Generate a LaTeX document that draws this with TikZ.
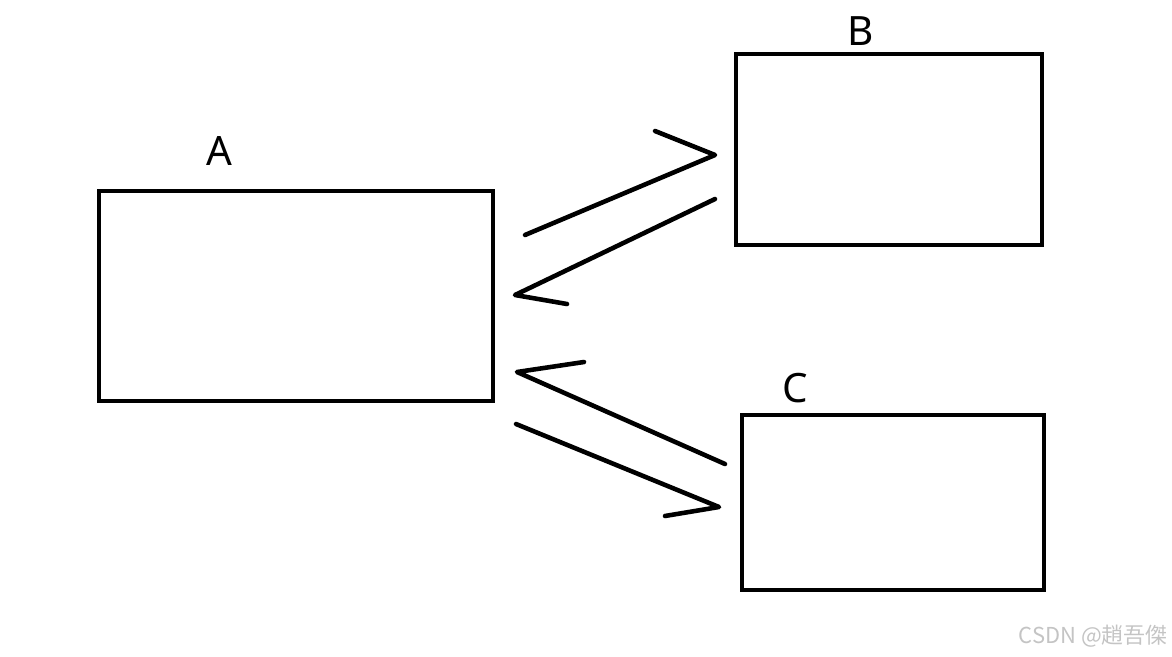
\documentclass[tikz,border=0pt]{standalone}
\usepackage{fontspec}
\setmainfont{Noto Sans}
\newfontfamily\cjkwm{Noto Sans CJK SC}
\definecolor{Cw}{HTML}{C4C4C4}
\tikzset{
	blockbox/.style={draw, line width=2.5pt, rectangle, inner sep=0pt},
	halfarrow/.style={line width=2.6pt, line cap=round, line join=round},
	boxlabel/.style={font=\fontsize{23}{26}\selectfont, inner sep=0pt}
}

\begin{document}
\begin{tikzpicture}[x=0.02cm, y=-0.02cm]
		
		%% canvas
		\useasboundingbox (0,0) rectangle (1172,656);
		
		%% ── the three blocks ──────────────────────────────────────────
		\node[blockbox, minimum width=7.88cm, minimum height=4.20cm] (A) at (296, 296.0) {};
		\node[blockbox, minimum width=6.12cm, minimum height=3.82cm] (B) at (889, 149.5) {};
		\node[blockbox, minimum width=6.04cm, minimum height=3.50cm] (C) at (893, 502.5) {};
		
		%% labels over the blocks
		\node[boxlabel] (lA) at (219, 151) {A};
		\node[boxlabel] (lB) at (861,  31) {B};
		\node[boxlabel] (lC) at (795, 388) {C};
		
		%% ── hand drawn half arrows ────────────────────────────────────
		%% A -> B
		\coordinate (ab1) at (525, 235);
		\coordinate (ab2) at (715, 155);
		\coordinate (ab3) at (655, 131);
		%% B -> A
		\coordinate (ba1) at (715, 199);
		\coordinate (ba2) at (515, 295);
		\coordinate (ba3) at (567, 304);
		%% C -> A
		\coordinate (ca1) at (725, 464);
		\coordinate (ca2) at (517, 372);
		\coordinate (ca3) at (584, 362);
		%% A -> C
		\coordinate (ac1) at (516, 424);
		\coordinate (ac2) at (719, 507);
		\coordinate (ac3) at (665, 516);
		
		\draw[halfarrow] (ab1) -- (ab2) -- (ab3);
		\draw[halfarrow] (ba1) -- (ba2) -- (ba3);
		\draw[halfarrow] (ca1) -- (ca2) -- (ca3);
		\draw[halfarrow] (ac1) -- (ac2) -- (ac3);
		
		%% watermark
		\node[font=\cjkwm\fontsize{12.5}{15}\selectfont, Cw, anchor=east, inner sep=0pt] (wm) at (1168, 636) {CSDN @趙吾傑};
		
	\end{tikzpicture}
\end{document}
